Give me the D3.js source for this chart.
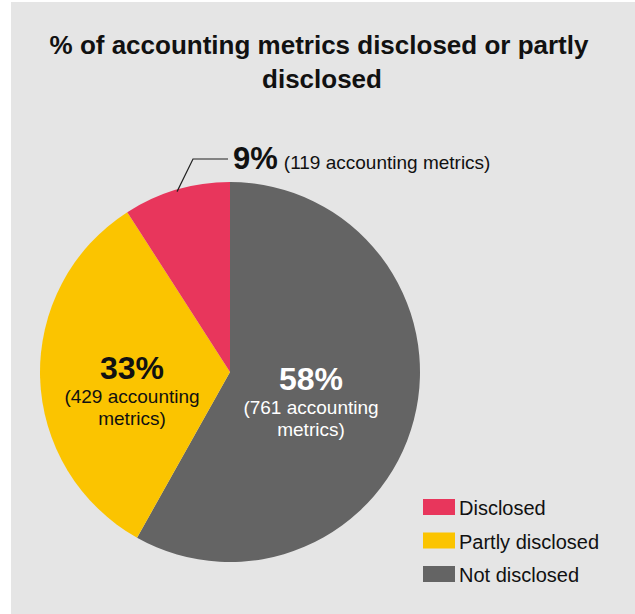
<!DOCTYPE html>
<html>
<head>
<meta charset="utf-8">
<script src="https://cdn.jsdelivr.net/npm/d3@7/dist/d3.min.js"></script>
<style>
  html, body { margin: 0; padding: 0; background: #ffffff; }
  svg { display: block; font-family: "Liberation Sans", Arial, Helvetica, sans-serif; }
</style>
</head>
<body>
<svg id="chart" width="635" height="614"></svg>
<script>
// Accounting metrics by disclosure status (clockwise from 12 o'clock)
const categories = ["Not disclosed", "Partly disclosed", "Disclosed"];
const counts = [761, 429, 119];
const percentLabels = ["58%", "33%", "9%"];
const colors = ["#646464", "#fbc400", "#e8365c"];
const legendOrder = ["Disclosed", "Partly disclosed", "Not disclosed"];

const svg = d3.select("#chart");
const W = 635, H = 614;

// panel background
svg.append("rect").attr("x", 11).attr("y", 2).attr("width", W - 11).attr("height", H - 2)
  .attr("fill", "#e5e5e5");

// title
const title = svg.append("text").attr("text-anchor", "middle")
  .attr("font-weight", "bold").attr("font-size", 26).attr("fill", "#111");
title.append("tspan").attr("x", 319).attr("y", 54).text("% of accounting metrics disclosed or partly");
title.append("tspan").attr("x", 322).attr("y", 88).text("disclosed");

// pie
const cx = 230, cy = 372, r = 190;
const color = d3.scaleOrdinal().domain(categories).range(colors);
const pie = d3.pie().sort(null).value(d => d.count);
const data = categories.map((c, i) => ({ cat: c, count: counts[i], pct: percentLabels[i] }));
const arcs = pie(data);
const arc = d3.arc().innerRadius(0).outerRadius(r);

const g = svg.append("g").attr("transform", `translate(${cx},${cy})`);
g.selectAll("path").data(arcs).enter().append("path")
  .attr("d", arc).attr("fill", d => color(d.data.cat));

// inside labels for the two large slices
function innerLabel(d, x, y, fill) {
  const t = svg.append("text").attr("text-anchor", "middle").attr("fill", fill);
  t.append("tspan").attr("x", x).attr("y", y).attr("font-weight", "bold")
    .attr("font-size", 32).text(d.data.pct);
  t.append("tspan").attr("x", x).attr("dy", 24).attr("font-size", 19)
    .text(`(${d.data.count} accounting`);
  t.append("tspan").attr("x", x).attr("dy", 22).attr("font-size", 19).text("metrics)");
}
innerLabel(arcs[1], 132, 379, "#111");
innerLabel(arcs[0], 311, 390, "#ffffff");

// callout for the small slice
const small = arcs[2];
const mid = (small.startAngle + small.endAngle) / 2;
const edge = [cx + Math.sin(mid) * (r - 2), cy - Math.cos(mid) * (r - 2)];
svg.append("polyline")
  .attr("points", [[edge[0], edge[1]], [193, 159], [228, 159]].map(p => p.join(",")).join(" "))
  .attr("fill", "none").attr("stroke", "#222").attr("stroke-width", 1.2);
const callout = svg.append("text").attr("x", 233).attr("y", 169).attr("fill", "#111");
callout.append("tspan").attr("font-weight", "bold").attr("font-size", 31).text(small.data.pct);
callout.append("tspan").attr("font-size", 19).attr("dx", 6).text(`(${small.data.count} accounting metrics)`);

// legend
const lg = svg.append("g").attr("transform", "translate(423,499)");
const rows = lg.selectAll("g").data(legendOrder).enter().append("g")
  .attr("transform", (d, i) => `translate(0,${i * 33.5})`);
rows.append("rect").attr("width", 32).attr("height", 16).attr("fill", d => color(d));
rows.append("text").attr("x", 36).attr("y", 16).attr("font-size", 20).attr("fill", "#111").text(d => d);
</script>
</body>
</html>
